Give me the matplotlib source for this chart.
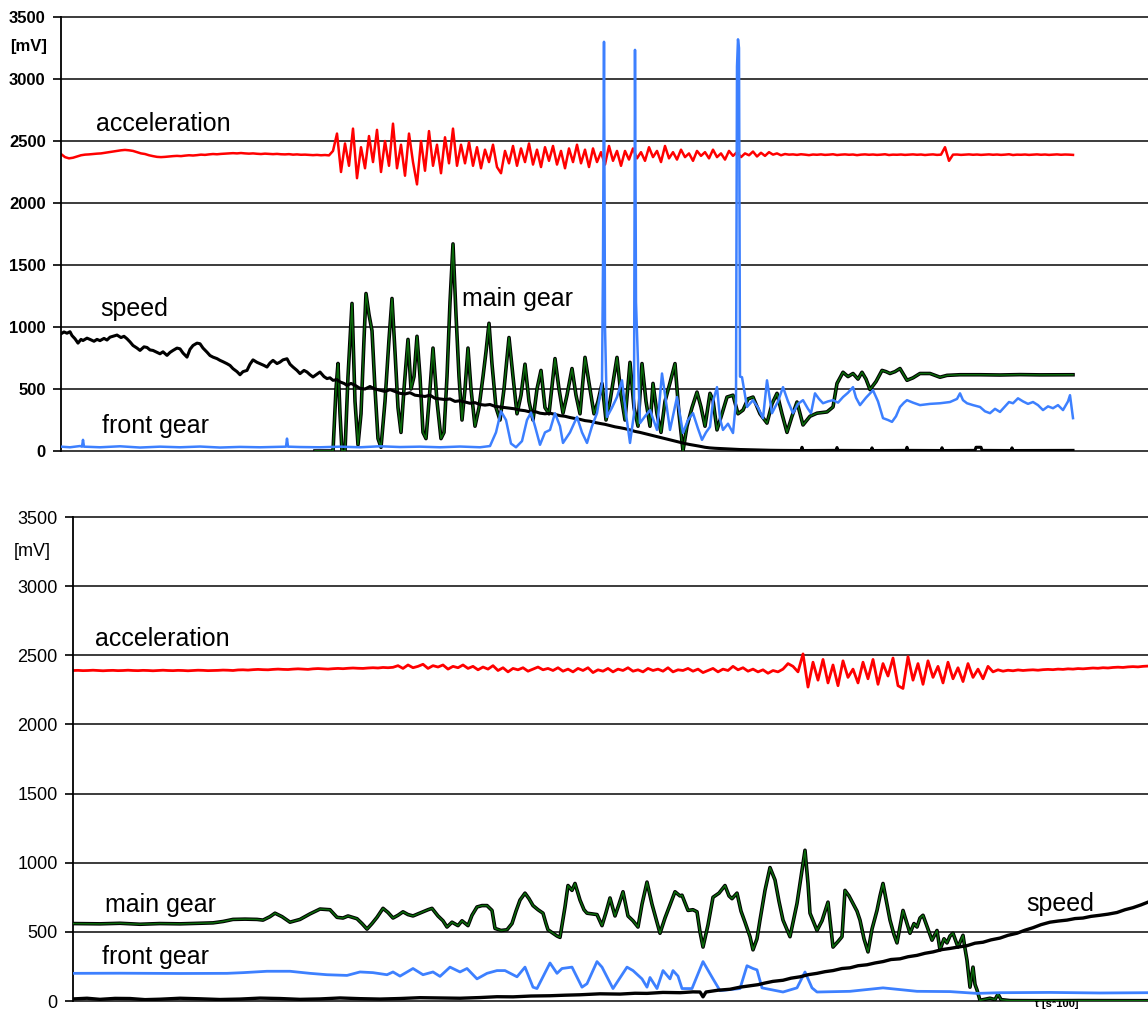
import numpy as np
import matplotlib.pyplot as plt

plt.rcParams['font.family'] = ['Liberation Sans', 'DejaVu Sans']

# ---------------- top run: t = sample index (s*100), values in mV ----------------
# acceleration sampled every 4 units starting at t=0
acc_top_step = 4
acc_top = [
    2395, 2370, 2360, 2365, 2375, 2385, 2390, 2392, 2395, 2398,
    2400, 2405, 2410, 2415, 2420, 2425, 2428, 2425, 2420, 2410,
    2400, 2395, 2385, 2378, 2372, 2370, 2372, 2375, 2378, 2380,
    2378, 2382, 2385, 2383, 2386, 2390, 2388, 2392, 2395, 2393,
    2396, 2398, 2400, 2402, 2400, 2403, 2400, 2398, 2400, 2397,
    2395, 2398, 2396, 2394, 2396, 2393, 2392, 2394, 2390, 2392,
    2389, 2390, 2388, 2386, 2388, 2385, 2387, 2384,
    # strong vibration
    2420, 2560, 2250, 2480, 2300, 2600, 2200, 2450, 2280, 2540,
    2330, 2590, 2250, 2500, 2300, 2640, 2280, 2470, 2220, 2560,
    2330, 2150, 2500, 2260, 2580, 2300, 2470, 2240, 2530, 2320,
    2600, 2300,
    2470, 2320, 2490, 2300, 2450, 2280, 2430, 2330, 2470, 2290,
    2240, 2420, 2320, 2460, 2300, 2440, 2330, 2480, 2310, 2430,
    2290, 2450, 2340, 2460, 2310, 2420, 2280, 2440, 2330, 2470,
    2320, 2430, 2290, 2440, 2330, 2410, 2310, 2460, 2340, 2420,
    2300,
    2420, 2350, 2440, 2360, 2410, 2340, 2450, 2370, 2420, 2330,
    2460, 2360, 2410, 2350, 2430, 2370, 2400, 2340, 2420, 2380,
    2410, 2360, 2430, 2370, 2400, 2350, 2420, 2380, 2410, 2370,
    2400, 2385, 2415, 2375, 2405, 2380, 2410, 2390, 2400, 2385,
    # calm again
    2395, 2390, 2392, 2388, 2393, 2390, 2386, 2391, 2389, 2392,
    2388, 2390, 2393, 2387, 2390, 2392, 2389, 2391, 2386, 2390,
    2392, 2389, 2391, 2388, 2390, 2393, 2387, 2390, 2389, 2391,
    2388, 2390, 2392, 2389, 2391, 2387, 2390, 2392, 2388, 2390,
    2450, 2340, 2390, 2391, 2388, 2390, 2392, 2389, 2391, 2388,
    2390, 2392, 2389, 2391, 2388, 2390, 2393, 2387, 2390, 2389,
    2391, 2388, 2390, 2392, 2389, 2391, 2388, 2390, 2392, 2389,
    2391, 2390, 2388,
]

speed_top = [
    (0, 945), (3, 960), (6, 950), (9, 962), (11, 931), (14, 905), (17, 870),
    (20, 900), (22, 891), (26, 910), (29, 900), (33, 885), (36, 900), (39, 890),
    (43, 908), (46, 895), (49, 918), (52, 925), (56, 935), (60, 915), (63, 925),
    (66, 905), (69, 880), (72, 851), (76, 830), (79, 811), (83, 840), (86, 835),
    (89, 815), (92, 811), (96, 795), (99, 784), (102, 800), (106, 771), (109, 795),
    (112, 811), (116, 830), (119, 824), (122, 790), (126, 757), (129, 820),
    (132, 851), (136, 870), (139, 865), (142, 830), (146, 797), (149, 770),
    (152, 757), (156, 745), (159, 731), (162, 720), (166, 704), (169, 690),
    (172, 664), (176, 640), (179, 615), (182, 640), (186, 650), (189, 700),
    (192, 735), (196, 715), (199, 704), (203, 690), (206, 677), (209, 710),
    (212, 731), (216, 705), (219, 717), (222, 735), (226, 744), (229, 700),
    (232, 677), (236, 650), (239, 624), (243, 650), (246, 637), (249, 615),
    (252, 597), (256, 620), (259, 637), (263, 600), (266, 584), (269, 590),
    (272, 570), (276, 575), (279, 557), (283, 545), (286, 530), (290, 545),
    (294, 530), (299, 505), (304, 500), (309, 520), (314, 500), (319, 490),
    (324, 480), (329, 495), (334, 480), (339, 465), (344, 460), (349, 470),
    (354, 450), (359, 445), (364, 440), (369, 450), (374, 425), (379, 420),
    (384, 415), (389, 420), (394, 400), (399, 405), (404, 395), (409, 385),
    (414, 390), (419, 375), (424, 370), (429, 375), (434, 360), (439, 355),
    (444, 350), (449, 345), (454, 340), (459, 330), (464, 325), (469, 315),
    (474, 318), (479, 305), (484, 300), (489, 305), (494, 295), (499, 285),
    (504, 280), (509, 270), (514, 262), (519, 255), (524, 245), (529, 240),
    (534, 230), (539, 222), (544, 215), (549, 205), (554, 195), (559, 188),
    (564, 180), (569, 170), (574, 158), (579, 150), (584, 140), (589, 130),
    (594, 120), (599, 110), (604, 100), (609, 90), (614, 80), (619, 70),
    (624, 60), (629, 52), (634, 45), (639, 38), (644, 30), (649, 25), (654, 22),
    (659, 20), (664, 18), (672, 14), (679, 12), (689, 10), (699, 8), (709, 6),
    (719, 5), (740, 4), (741, 30), (742, 4), (775, 5), (776, 28), (777, 5),
    (810, 4), (811, 25), (812, 4), (845, 5), (846, 30), (847, 5), (880, 4),
    (881, 26), (882, 4), (914, 5), (915, 30), (920, 30), (921, 5), (950, 4),
    (951, 25), (952, 4), (1012, 5),
]

main_gear_top = [
    (254, 0), (272, 0), (275, 500), (277, 706), (279, 300), (281, 0), (284, 0),
    (287, 600), (291, 1190), (294, 400), (297, 50), (300, 300), (303, 900),
    (305, 1270), (308, 1100), (311, 970), (314, 500), (317, 100), (320, 30),
    (324, 400), (328, 900), (331, 1230), (334, 800), (337, 350), (340, 150),
    (343, 500), (347, 900), (350, 500), (353, 600), (356, 925), (359, 600),
    (362, 150), (365, 100), (369, 500), (372, 830), (376, 400), (380, 100),
    (383, 150), (386, 600), (389, 1200), (392, 1670), (395, 1100), (398, 600),
    (401, 250), (404, 500), (407, 830), (410, 500), (414, 200), (418, 350),
    (422, 600), (425, 800), (428, 1030), (431, 700), (435, 350), (439, 250),
    (443, 500), (448, 915), (452, 600), (456, 300), (460, 450), (464, 700),
    (468, 400), (472, 250), (476, 500), (480, 650), (484, 350), (488, 300),
    (494, 745), (498, 500), (502, 305), (506, 450), (511, 665), (515, 450),
    (519, 300), (524, 755), (528, 550), (533, 300), (537, 400), (541, 545),
    (545, 250), (549, 400), (553, 600), (556, 755), (560, 450), (564, 250),
    (569, 715), (573, 350), (577, 200), (581, 705), (585, 400), (589, 200),
    (592, 545), (596, 300), (600, 150), (604, 400), (609, 550), (614, 705),
    (618, 300), (622, 0), (626, 200), (631, 350), (636, 475), (640, 355),
    (644, 200), (649, 465), (652, 410), (656, 170), (661, 300), (666, 435),
    (672, 450), (677, 300), (682, 330), (687, 420), (692, 435), (699, 300),
    (706, 225), (711, 380), (716, 465), (721, 300), (726, 150), (731, 280),
    (736, 395), (742, 210), (749, 280), (756, 305), (766, 315), (772, 355),
    (776, 545), (782, 635), (787, 600), (792, 625), (797, 580), (801, 635),
    (805, 580), (809, 495), (815, 560), (821, 650), (825, 640), (829, 625),
    (834, 640), (839, 665), (846, 570), (852, 590), (859, 625), (869, 625),
    (879, 595), (886, 610), (899, 615), (919, 615), (939, 613), (959, 616),
    (979, 614), (999, 615), (1012, 615),
]

front_gear_top = [
    (0, 35), (9, 30), (19, 40), (21, 35), (22, 90), (23, 35), (39, 30),
    (59, 38), (79, 28), (99, 35), (119, 30), (139, 36), (159, 28), (179, 33),
    (199, 30), (225, 35), (226, 100), (227, 35), (239, 32), (259, 30),
    (279, 35), (299, 30), (319, 38), (339, 32), (359, 35), (379, 30),
    (399, 36), (419, 30), (429, 40), (435, 150), (440, 320), (445, 250),
    (450, 60), (455, 30), (461, 80), (466, 250), (470, 310), (474, 200),
    (479, 50), (484, 150), (489, 170), (494, 305), (499, 200), (502, 65),
    (509, 150), (516, 275), (521, 150), (526, 65), (531, 200), (536, 305),
    (541, 545), (542, 1500), (543, 3300), (544, 1000), (546, 275), (551, 350),
    (556, 435), (561, 570), (565, 300), (569, 65), (573, 300), (574, 3235),
    (575, 1200), (579, 225), (584, 280), (589, 330), (596, 170), (601, 625),
    (605, 400), (609, 170), (616, 435), (622, 145), (627, 250), (632, 305),
    (637, 180), (641, 90), (645, 150), (649, 195), (652, 400), (656, 515),
    (659, 260), (662, 170), (667, 220), (672, 145), (675, 400), (676, 3100),
    (677, 3320), (678, 3250), (679, 600), (681, 595), (686, 355), (692, 410),
    (697, 350), (702, 265), (706, 570), (711, 305), (717, 400), (722, 515),
    (727, 400), (732, 305), (737, 380), (742, 410), (747, 340), (750, 305),
    (754, 465), (758, 420), (762, 385), (767, 400), (772, 410), (777, 390),
    (782, 435), (787, 470), (792, 515), (795, 430), (799, 370), (805, 430),
    (812, 490), (817, 400), (822, 265), (827, 250), (831, 235), (835, 280),
    (839, 355), (843, 390), (846, 410), (852, 390), (859, 370), (869, 380),
    (879, 385), (889, 395), (896, 420), (899, 465), (902, 410), (906, 385),
    (912, 370), (919, 355), (924, 320), (929, 305), (934, 340), (939, 315),
    (944, 360), (948, 395), (952, 385), (957, 425), (962, 400), (967, 380),
    (972, 395), (977, 370), (982, 330), (987, 360), (992, 345), (997, 370),
    (1002, 330), (1007, 400), (1009, 450), (1012, 265),
]

# ---------------- bottom run ----------------
acc_bot_step = 5
acc_bot = [
    2390, 2391, 2389, 2390, 2392, 2390, 2388, 2390, 2391, 2389,
    2390, 2392, 2390, 2389, 2391, 2390, 2388, 2390, 2392, 2390,
    2389, 2391, 2390, 2388, 2390, 2392, 2391, 2389, 2390, 2391,
    2393, 2392, 2390, 2394, 2395, 2393, 2396, 2398, 2396, 2395,
    2398, 2400, 2398, 2397, 2400, 2402, 2400, 2398, 2402, 2404,
    2402, 2400, 2403, 2405, 2403, 2406, 2408, 2406, 2405, 2408,
    2410, 2408, 2412, 2410, 2413,
    2425, 2405, 2430, 2410, 2420, 2435, 2405, 2425, 2415, 2430,
    2400, 2420, 2410, 2430, 2405, 2420, 2395, 2415, 2400, 2425,
    2390, 2410, 2380, 2405, 2395, 2410, 2385, 2400, 2415, 2395,
    2405, 2390,
    2410, 2385, 2400, 2380, 2405, 2390, 2410, 2375, 2395, 2385,
    2405, 2380, 2400, 2390, 2410, 2385, 2395, 2380, 2405, 2390,
    2400, 2385, 2410, 2380, 2395, 2390, 2405, 2385, 2400, 2375,
    2390, 2405, 2380, 2400, 2390, 2420, 2395, 2410, 2385, 2400,
    2380, 2395, 2370, 2390, 2380, 2400, 2440, 2420, 2380, 2510,
    2270, 2450, 2320, 2470, 2300, 2430, 2280, 2460, 2340, 2400,
    2300, 2450, 2330, 2470, 2290, 2440, 2350, 2480, 2280, 2260,
    2490, 2320, 2440, 2290, 2460, 2340, 2420, 2300, 2450, 2330,
    2410, 2310, 2440, 2340, 2400, 2330, 2420,
    2380, 2395, 2385, 2392, 2388, 2394, 2390, 2393, 2395, 2392,
    2396, 2398, 2396, 2400, 2398, 2402, 2400, 2404, 2402, 2405,
    2408, 2406, 2410, 2408, 2412, 2414, 2412, 2416, 2418, 2416,
    2420, 2422,
]

main_gear_bot = [
    (0, 560), (27, 558), (47, 562), (67, 555), (87, 560), (107, 558), (127, 562),
    (140, 565), (150, 575), (160, 590), (172, 592), (184, 590), (190, 585),
    (197, 610), (202, 635), (209, 610), (217, 570), (227, 590), (237, 630),
    (247, 665), (257, 660), (264, 605), (270, 600), (275, 615), (284, 595),
    (289, 560), (294, 520), (299, 560), (304, 605), (310, 670), (315, 640),
    (320, 600), (325, 620), (330, 645), (335, 625), (340, 615), (345, 630),
    (350, 645), (355, 660), (359, 670), (365, 615), (370, 580), (374, 535),
    (379, 570), (385, 545), (389, 580), (395, 545), (399, 620), (404, 680),
    (409, 690), (414, 690), (419, 655), (422, 525), (428, 510), (434, 515),
    (439, 560), (443, 650), (447, 730), (452, 780), (456, 740), (460, 690),
    (465, 660), (470, 635), (473, 560), (475, 515), (480, 490), (484, 470),
    (487, 460), (492, 680), (495, 835), (499, 800), (502, 850), (507, 730),
    (511, 660), (514, 635), (519, 630), (524, 625), (529, 545), (533, 640),
    (537, 745), (542, 615), (546, 700), (550, 790), (555, 615), (560, 580),
    (565, 535), (569, 700), (574, 860), (579, 700), (584, 570), (587, 490),
    (592, 600), (597, 695), (602, 790), (607, 760), (609, 765), (615, 655),
    (620, 660), (624, 645), (627, 500), (630, 390), (635, 550), (640, 750),
    (646, 780), (652, 835), (656, 760), (659, 740), (664, 780), (668, 650),
    (672, 570), (677, 465), (680, 370), (684, 450), (687, 585), (692, 800),
    (697, 965), (702, 875), (706, 720), (710, 585), (717, 465), (724, 705),
    (728, 900), (732, 1090), (735, 850), (737, 635), (744, 510), (749, 580),
    (755, 715), (760, 390), (765, 430), (769, 465), (772, 800), (776, 760),
    (780, 705), (784, 650), (787, 585), (791, 450), (795, 355), (799, 520),
    (804, 655), (807, 760), (810, 850), (814, 700), (817, 585), (821, 480),
    (824, 420), (830, 655), (834, 560), (837, 490), (841, 560), (844, 535),
    (847, 600), (850, 620), (855, 520), (859, 440), (864, 510), (867, 370),
    (871, 450), (874, 420), (877, 470), (880, 490), (885, 390), (890, 475),
    (892, 380), (894, 295), (897, 100), (900, 245), (902, 120), (904, 80),
    (907, 5), (917, 20), (922, 10), (925, 50), (928, 10), (937, 3), (967, 2),
    (1007, 3), (1047, 2), (1075, 2),
]

front_gear_bot = [
    (0, 200), (47, 201), (107, 199), (154, 200), (170, 205), (194, 215),
    (217, 215), (237, 200), (254, 190), (274, 185), (287, 210), (300, 205),
    (314, 190), (320, 210), (327, 180), (340, 235), (350, 190), (360, 210),
    (367, 178), (377, 245), (387, 210), (394, 235), (404, 160), (414, 200),
    (424, 220), (432, 220), (444, 175), (452, 245), (460, 100), (464, 90),
    (477, 275), (484, 200), (489, 235), (499, 245), (509, 100), (514, 125),
    (524, 285), (529, 245), (540, 90), (554, 245), (560, 220), (569, 160),
    (574, 100), (577, 170), (584, 90), (590, 220), (597, 160), (600, 220),
    (605, 180), (609, 90), (619, 90), (630, 285), (640, 160), (647, 75),
    (667, 90), (674, 255), (680, 235), (684, 225), (689, 95), (710, 65),
    (724, 95), (732, 210), (739, 95), (744, 65), (777, 70), (810, 95),
    (844, 70), (877, 68), (904, 55), (927, 60), (977, 62), (1027, 58),
    (1075, 60),
]

speed_bot = [
    (0, 15), (14, 20), (27, 12), (42, 19), (57, 18), (72, 10), (87, 13),
    (107, 20), (127, 16), (147, 11), (167, 14), (187, 21), (207, 18),
    (227, 12), (247, 15), (267, 22), (287, 17), (307, 14), (327, 18),
    (347, 24), (367, 22), (387, 20), (407, 25), (424, 31), (440, 30),
    (458, 36), (477, 38), (492, 42), (507, 45), (527, 52), (547, 50),
    (562, 56), (574, 55), (590, 62), (607, 60), (620, 66), (627, 65),
    (630, 30), (633, 65), (645, 78), (657, 85), (667, 100), (677, 110),
    (685, 118), (692, 130), (700, 142), (710, 150), (718, 165), (727, 175),
    (735, 190), (744, 200), (752, 212), (760, 220), (769, 235), (777, 240),
    (785, 255), (794, 262), (802, 275), (810, 285), (818, 300), (827, 305),
    (835, 320), (844, 330), (852, 345), (860, 355), (869, 372), (877, 380),
    (885, 390), (894, 400), (902, 418), (910, 425), (918, 442), (927, 455),
    (935, 475), (944, 490), (952, 512), (960, 530), (968, 552), (977, 570),
    (985, 578), (994, 585), (1002, 596), (1010, 600), (1018, 612), (1027, 620),
    (1035, 628), (1044, 640), (1052, 660), (1060, 675), (1068, 695),
    (1075, 715),
]

RED = '#ff0000'
BLUE = '#3d80ff'
GREEN = '#0b6a0b'


def style_axis(ax, xmax, bold, size):
    ax.set_xlim(0, xmax)
    ax.set_ylim(0, 3500)
    for lvl in range(0, 3501, 500):
        ax.axhline(lvl, color='#1a1a1a', lw=1.2, zorder=0, clip_on=False)
    for side in ['top', 'right', 'bottom']:
        ax.spines[side].set_visible(False)
    ax.spines['left'].set_linewidth(1.3)
    ax.set_xticks([])
    ax.set_yticks(range(0, 3501, 500))
    ax.tick_params(axis='y', length=6, width=1.2, pad=5, labelsize=size)
    for lab in ax.get_yticklabels():
        lab.set_fontweight('bold' if bold else 'normal')


def draw_green(ax, pts):
    t, v = np.array(pts).T
    ax.plot(t, v, color='black', lw=2.6, zorder=3)
    ax.plot(t, v, color=GREEN, lw=1.1, zorder=3.1)


fig = plt.figure(figsize=(11.48, 10.11), dpi=100)
ax1 = fig.add_axes([61 / 1148, 1 - 451 / 1011, 1 - 61 / 1148, 434 / 1011])
ax2 = fig.add_axes([73 / 1148, 1 - 1001 / 1011, 1 - 73 / 1148, 484 / 1011])

# top panel
style_axis(ax1, 1087, True, 12)
ax1.plot(np.arange(len(acc_top)) * acc_top_step, acc_top, color=RED, lw=1.8, zorder=2)
draw_green(ax1, main_gear_top)
t, v = np.array(speed_top).T
ax1.plot(t, v, color='black', lw=2.2, zorder=3.5)
t, v = np.array(front_gear_top).T
ax1.plot(t, v, color=BLUE, lw=1.8, zorder=4)

ax1.text(35, 2580, 'acceleration', fontsize=18, va='baseline')
ax1.text(39, 1088, 'speed', fontsize=18, va='baseline')
ax1.text(401, 1169, 'main gear', fontsize=18, va='baseline')
ax1.text(41, 145, 'front gear', fontsize=18, va='baseline')

# bottom panel
style_axis(ax2, 1075, False, 13)
ax2.plot(np.arange(len(acc_bot)) * acc_bot_step, acc_bot, color=RED, lw=2.0, zorder=2)
draw_green(ax2, main_gear_bot)
t, v = np.array(front_gear_bot).T
ax2.plot(t, v, color=BLUE, lw=2.0, zorder=3.4)
t, v = np.array(speed_bot).T
ax2.plot(t, v, color='black', lw=2.4, zorder=3.5)

ax2.text(22, 2569, 'acceleration', fontsize=18, va='baseline')
ax2.text(32, 642, 'main gear', fontsize=18, va='baseline')
ax2.text(29, 267, 'front gear', fontsize=18, va='baseline')
ax2.text(953, 649, 'speed', fontsize=18, va='baseline')
ax2.text(962, -40, 't [s*100]', fontsize=8, fontweight='bold', va='baseline', clip_on=False)

fig.text(29 / 1148, 1 - 46 / 1011, '[mV]', fontsize=12, fontweight='bold', ha='center', va='center')
fig.text(32 / 1148, 1 - 551 / 1011, '[mV]', fontsize=13, ha='center', va='center')

fig.savefig('out.png', dpi=100)
